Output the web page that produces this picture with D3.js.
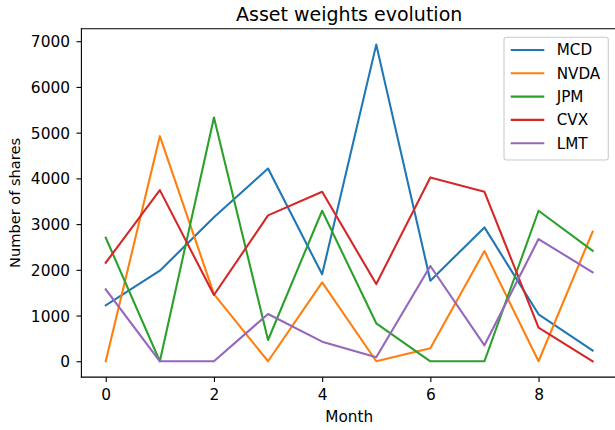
<!DOCTYPE html>
<html>
<head>
<meta charset="utf-8">
<script src="https://cdn.jsdelivr.net/npm/d3@7"></script>
<style>
  html, body { margin: 0; padding: 0; background: #fff; }
  svg { display: block; font-family: "DejaVu Sans", sans-serif; }
</style>
</head>
<body>
<svg id="chart" width="615" height="430"></svg>
<script>
const months = [0, 1, 2, 3, 4, 5, 6, 7, 8, 9];
const seriesNames = ["MCD", "NVDA", "JPM", "CVX", "LMT"];
const MCD  = [1224, 1980, 3150, 4215, 1901, 6925, 1761, 2928, 1027, 232];
const NVDA = [0, 4923, 1468, 0, 1726, 0, 284, 2410, 0, 2833];
const JPM  = [2702, 0, 5332, 465, 3292, 830, 0, 0, 3292, 2418];
const CVX  = [2155, 3743, 1449, 3190, 3707, 1689, 4021, 3707, 735, 0];
const LMT  = [1573, 0, 0, 1034, 429, 87, 2083, 349, 2673, 1945];
const colors = ["#1f77b4", "#ff7f0e", "#2ca02c", "#d62728", "#9467bd"];
const xTicks = [0, 2, 4, 6, 8];
const yTicks = [0, 1000, 2000, 3000, 4000, 5000, 6000, 7000];
const titleText = "Asset weights evolution";
const xLabel = "Month";
const yLabel = "Number of shares";

const series = [MCD, NVDA, JPM, CVX, LMT];

(function () {
const svg = d3.select("#chart");
const pl = 81.4, pr = 617, pt = 28.8, pb = 377.1;
const tickFont = "15.4px";

const xMin = d3.min(months), xMax = d3.max(months);
const xPad = (xMax - xMin) * 0.05;
const x = d3.scaleLinear().domain([xMin - xPad, xMax + xPad]).range([pl, pr]);

const allVals = series.flat();
const yMin = d3.min(allVals), yMax = d3.max(allVals);
const yPad = (yMax - yMin) * 0.05;
const y = d3.scaleLinear().domain([yMin - yPad, yMax + yPad]).range([pb, pt]);

// lines
const line = d3.line().x((d, i) => x(months[i])).y(d => y(d));
series.forEach((s, k) => {
  svg.append("path")
    .datum(s)
    .attr("d", line)
    .attr("fill", "none")
    .attr("stroke", colors[k])
    .attr("stroke-width", 2.1)
    .attr("stroke-linejoin", "round")
    .attr("stroke-linecap", "square");
});

// axes
const xAxis = d3.axisBottom(x).tickValues(xTicks).tickFormat(d3.format("d")).tickSizeOuter(0).tickSize(4.9).tickPadding(4.9);
const yAxis = d3.axisLeft(y).tickValues(yTicks).tickFormat(d3.format("d")).tickSizeOuter(0).tickSize(4.9).tickPadding(4.9);

const gx = svg.append("g").attr("transform", `translate(0,${pb})`).call(xAxis);
const gy = svg.append("g").attr("transform", `translate(${pl},0)`).call(yAxis);
[gx, gy].forEach(g => {
  g.select(".domain").remove();
  g.selectAll(".tick line").attr("stroke", "#000").attr("stroke-width", 1.1);
  g.selectAll(".tick text").attr("fill", "#000").style("font-size", tickFont).style("font-family", "DejaVu Sans");
});
gx.selectAll(".tick text").attr("y", 23).attr("dy", 0);
gy.selectAll(".tick text").attr("x", -11.4).attr("dy", "0.36em");

// spines
const sp = (x1, y1, x2, y2) => svg.append("line").attr("x1", x1).attr("y1", y1).attr("x2", x2).attr("y2", y2)
  .attr("stroke", "#000").attr("stroke-width", 1.1).attr("stroke-linecap", "square");
sp(pl, pt, pl, pb);
sp(pl, pb, pr, pb);
sp(pl, pt, pr, pt);
sp(pr, pt, pr, pb);

// title & labels
const cx = (pl + pr) / 2;
svg.append("text").attr("x", cx).attr("y", 20.7).attr("text-anchor", "middle")
  .style("font-size", "19px").attr("fill", "#000").text(titleText);
svg.append("text").attr("x", cx).attr("y", 422).attr("text-anchor", "middle")
  .style("font-size", "15.3px").attr("fill", "#000").text(xLabel);
svg.append("text").attr("transform", `translate(20,${(pt + pb) / 2}) rotate(-90)`).attr("text-anchor", "middle")
  .style("font-size", "14.6px").attr("fill", "#000").text(yLabel);

// legend
const lg = svg.append("g");
lg.append("rect").attr("x", 504).attr("y", 37.3).attr("width", 104.3).attr("height", 122.7)
  .attr("rx", 2.5).attr("fill", "#fff").attr("fill-opacity", 0.8).attr("stroke", "#cccccc").attr("stroke-width", 1.1);
seriesNames.forEach((n, k) => {
  const ly = 50 + k * 23.3;
  lg.append("line").attr("x1", 510.7).attr("x2", 544.3).attr("y1", ly).attr("y2", ly)
    .attr("stroke", colors[k]).attr("stroke-width", 2.1);
  lg.append("text").attr("x", 556.7).attr("y", ly + 5.3).style("font-size", "15.2px").attr("fill", "#000").text(n);
});
})();
</script>
</body>
</html>
